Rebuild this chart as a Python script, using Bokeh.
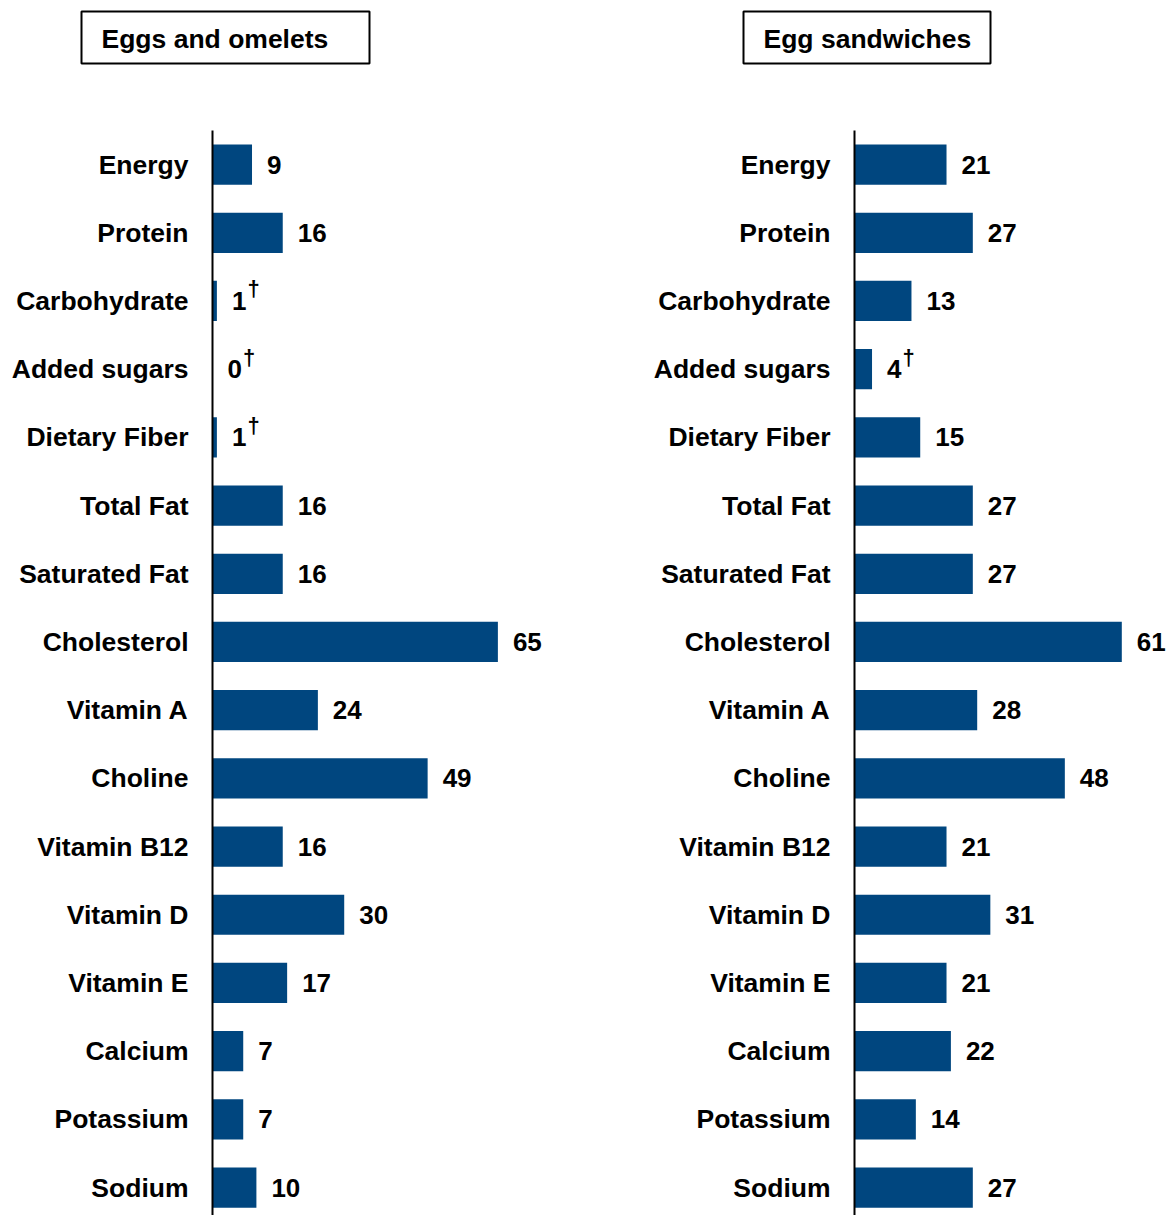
from bokeh.plotting import figure
from bokeh.layouts import row, column
from bokeh.models import Range1d, FixedTicker, Label, BoxAnnotation, ColumnDataSource
from bokeh.core.properties import value
from bokeh.embed import file_html
from bokeh.resources import INLINE

categories = ["Energy", "Protein", "Carbohydrate", "Added sugars", "Dietary Fiber",
              "Total Fat", "Saturated Fat", "Cholesterol", "Vitamin A", "Choline",
              "Vitamin B12", "Vitamin D", "Vitamin E", "Calcium", "Potassium", "Sodium"]
eggs_omelets = [9, 16, 1, 0, 1, 16, 16, 65, 24, 49, 16, 30, 17, 7, 7, 10]
eggs_omelets_dagger = [False, False, True, True, True, False, False, False, False, False,
                       False, False, False, False, False, False]
egg_sandwiches = [21, 27, 13, 4, 15, 27, 27, 61, 28, 48, 21, 31, 21, 22, 14, 27]
egg_sandwiches_dagger = [False, False, False, True, False, False, False, False, False, False,
                         False, False, False, False, False, False]
titles = ["Eggs and omelets", "Egg sandwiches"]

FONT = "Liberation Sans"
BAR = "#00467F"


def panel(vals, daggers, width, border_left, xmax):
    n = len(categories)
    p = figure(width=width, height=1085, output_backend="svg", toolbar_location=None,
               x_range=Range1d(0, xmax), y_range=Range1d(n - 1 + 0.41, -0.5),
               min_border_left=border_left, min_border_right=0, min_border_top=0,
               min_border_bottom=0)
    p.outline_line_color = None
    p.xgrid.visible = False
    p.ygrid.visible = False
    p.xaxis.visible = False
    p.background_fill_color = "white"
    p.border_fill_color = "white"

    ys = list(range(n))
    src = ColumnDataSource(dict(y=ys, v=vals, lab=[str(v) for v in vals],
                                dag=["\u2020" if d else "" for d in daggers],
                                doff=[15 + 14.5 * len(str(v)) + 1 for v in vals]))
    p.hbar(y="y", left=0, right="v", height=0.59, source=src, fill_color=BAR,
           line_color=None)
    p.text(x="v", y="y", text="lab", source=src, x_offset=15, y_offset=0,
           text_font=value(FONT), text_font_style="bold", text_font_size="26px",
           text_baseline="middle", text_align="left", text_color="black")
    p.text(x="v", y="y", text="dag", source=src, x_offset="doff", y_offset=-12,
           text_font=value(FONT), text_font_style="bold", text_font_size="22px",
           text_baseline="middle", text_align="left", text_color="black")

    ax = p.yaxis[0]
    ax.ticker = FixedTicker(ticks=ys)
    ax.major_label_overrides = {i: c for i, c in enumerate(categories)}
    ax.major_tick_in = 0
    ax.major_tick_out = 0
    ax.minor_tick_in = 0
    ax.minor_tick_out = 0
    ax.major_label_standoff = 24
    ax.major_label_text_font = FONT
    ax.major_label_text_font_style = "bold"
    ax.major_label_text_font_size = "26.5px"
    ax.major_label_text_color = "black"
    ax.axis_line_color = "black"
    ax.axis_line_width = 2
    return p


# header strip holding the two boxed panel titles (pixel-based layout coordinates)
head = figure(width=1166, height=130, output_backend="svg", toolbar_location=None,
              x_range=Range1d(0, 1166), y_range=Range1d(130, 0),
              min_border=0)
head.outline_line_color = None
head.xgrid.visible = False
head.ygrid.visible = False
head.axis.visible = False
boxes = [(81, 369, 11, 63, 101), (743, 990, 11, 63, 763)]
for t, (l, r, tp, bt, tx) in zip(titles, boxes):
    head.add_layout(BoxAnnotation(left=l, right=r, top=tp, bottom=bt,
                                  fill_color=None, fill_alpha=0, line_color="black",
                                  line_alpha=1.0, line_width=2))
    head.add_layout(Label(x=tx, y=(tp + bt) / 2 + 1, text=t, text_font=FONT,
                          text_font_style="bold", text_font_size="26.5px",
                          text_baseline="middle", text_align="left",
                          text_color="black"))

p1 = panel(eggs_omelets, eggs_omelets_dagger, 583, 212, 84.5)
p2 = panel(egg_sandwiches, egg_sandwiches_dagger, 583, 271, 71.2)

layout = column(head, row(p1, p2))
open("out.html", "w").write(file_html(layout, INLINE))
